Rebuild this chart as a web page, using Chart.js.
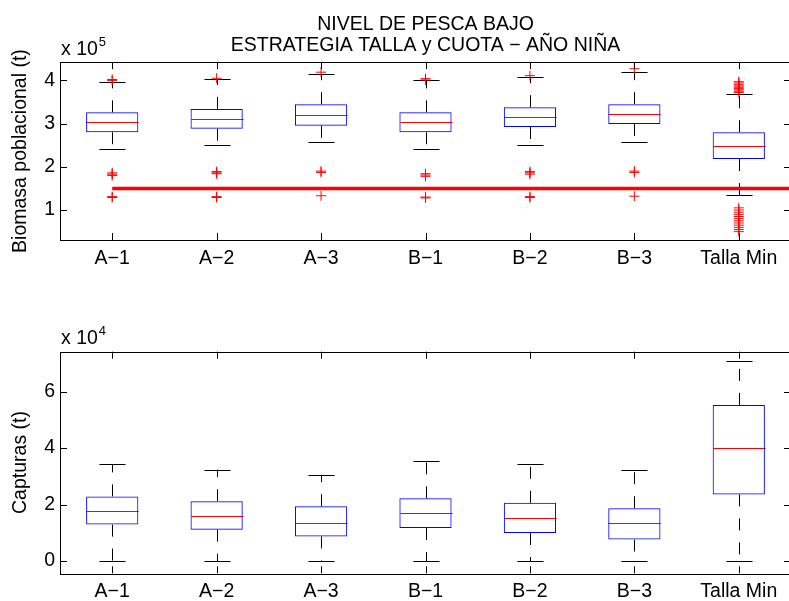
<!DOCTYPE html>
<html>
<head>
<meta charset="utf-8">
<script src="https://cdn.jsdelivr.net/npm/chart.js@4.4.1/dist/chart.umd.min.js"></script>
<style>
    html, body { margin: 0; padding: 0; background: #fff; overflow: hidden; width: 789px; height: 601px; }
    canvas { position: absolute; left: 0; }
    #chartBiomasa { top: 0; }
    #chartCapturas { top: 300px; }
</style>
</head>
<body>
<canvas id="chartBiomasa" width="800" height="300"></canvas>
<canvas id="chartCapturas" width="800" height="301"></canvas>
<script>
const estrategias = ['A−1', 'A−2', 'A−3', 'B−1', 'B−2', 'B−3', 'Talla Min'];

// Biomasa poblacional (x 10^5 t)
const bioQ1 = [2.80, 2.88, 2.95, 2.80, 2.92, 2.99, 2.18];
const bioMediana = [3.04, 3.11, 3.19, 3.04, 3.15, 3.22, 2.49];
const bioQ3 = [3.26, 3.34, 3.45, 3.26, 3.38, 3.45, 2.80];
const bioBigoteInf = [2.42, 2.50, 2.57, 2.42, 2.50, 2.57, 1.34];
const bioBigoteSup = [3.97, 4.03, 4.15, 4.00, 4.08, 4.20, 3.68];
const bioAtipicos = [
    [4.00, 4.02, 1.86, 1.83, 1.80, 1.31, 1.29],
    [4.05, 1.89, 1.86, 1.84, 1.31, 1.29],
    [4.19, 1.90, 1.87, 1.33],
    [4.01, 4.04, 1.84, 1.81, 1.78, 1.30, 1.28],
    [4.11, 1.89, 1.86, 1.83, 1.31, 1.29],
    [4.27, 1.90, 1.87, 1.32],
    [3.72, 3.75, 3.78, 3.81, 3.84, 3.87, 3.90, 3.94, 3.97,
     1.05, 1.00, 0.95, 0.90, 0.85, 0.80, 0.75, 0.70, 0.65, 0.60, 0.55, 0.50]
];
const umbralBiomasa = 1.5;
const umbralDesde = 1;
const umbralHasta = 8;
const bioTicks = [1, 2, 3, 4];

// Capturas (x 10^4 t)
const capQ1 = [1.29, 1.11, 0.87, 1.17, 0.99, 0.76, 2.36];
const capMediana = [1.76, 1.58, 1.35, 1.70, 1.52, 1.35, 4.01];
const capQ3 = [2.29, 2.12, 1.94, 2.22, 2.06, 1.87, 5.53];
const capBigoteInf = [0, 0, 0, 0, 0, 0, 0];
const capBigoteSup = [3.42, 3.24, 3.06, 3.53, 3.42, 3.23, 7.07];
const capTicks = [0, 2, 4, 6];

Chart.defaults.font.family = "'Liberation Sans', Arial, Helvetica, sans-serif";
Chart.defaults.color = '#000';

const FUENTE = 19.5;

// bigotes (discontinuos), topes y mediana
const cajasPlugin = {
    id: 'cajas',
    beforeDatasetsDraw(chart, args, opts) {
        const ctx = chart.ctx;
        const x = chart.scales.x, y = chart.scales.y;
        const medio = x.getPixelForValue(1.25) - x.getPixelForValue(1);
        const tope = medio / 2;
        ctx.save();
        ctx.lineWidth = 1;
        for (let i = 0; i < opts.mediana.length; i++) {
            const cx = Math.round(x.getPixelForValue(i + 1)) + 0.5;
            ctx.strokeStyle = '#000';
            ctx.setLineDash([12, 12]);
            ctx.beginPath();
            ctx.moveTo(cx, y.getPixelForValue(opts.q3[i]));
            ctx.lineTo(cx, y.getPixelForValue(opts.sup[i]));
            ctx.moveTo(cx, y.getPixelForValue(opts.q1[i]));
            ctx.lineTo(cx, y.getPixelForValue(opts.inf[i]));
            ctx.stroke();
            ctx.setLineDash([]);
            ctx.beginPath();
            const ys = Math.round(y.getPixelForValue(opts.sup[i])) + 0.5;
            const yi = Math.round(y.getPixelForValue(opts.inf[i])) + 0.5;
            ctx.moveTo(cx - tope, ys); ctx.lineTo(cx + tope, ys);
            ctx.moveTo(cx - tope, yi); ctx.lineTo(cx + tope, yi);
            ctx.stroke();
            const ym = Math.round(y.getPixelForValue(opts.mediana[i])) + 0.5;
            ctx.strokeStyle = '#ff0000';
            ctx.beginPath();
            ctx.moveTo(cx - medio, ym); ctx.lineTo(cx + medio, ym);
            ctx.stroke();
        }
        ctx.restore();
    }
};

// marco tipo MATLAB con marcas hacia dentro y el factor "x 10^n"
const marcoPlugin = {
    id: 'marco',
    afterDraw(chart, args, opts) {
        const ctx = chart.ctx;
        const a = chart.chartArea;
        const x = chart.scales.x, y = chart.scales.y;
        const largo = 7;
        ctx.save();
        ctx.strokeStyle = '#000';
        ctx.lineWidth = 1;
        ctx.strokeRect(Math.round(a.left) + 0.5, Math.round(a.top) + 0.5,
            Math.round(a.right - a.left), Math.round(a.bottom - a.top));
        ctx.beginPath();
        x.ticks.forEach(t => {
            const px = Math.round(x.getPixelForValue(t.value)) + 0.5;
            ctx.moveTo(px, a.top); ctx.lineTo(px, a.top + largo);
            ctx.moveTo(px, a.bottom); ctx.lineTo(px, a.bottom - largo);
        });
        y.ticks.forEach(t => {
            const py = Math.round(y.getPixelForValue(t.value)) + 0.5;
            ctx.moveTo(a.left, py); ctx.lineTo(a.left + largo, py);
            ctx.moveTo(a.right, py); ctx.lineTo(a.right - largo, py);
        });
        ctx.stroke();

        ctx.fillStyle = '#000';
        ctx.textAlign = 'left';
        ctx.textBaseline = 'alphabetic';
        ctx.font = FUENTE + "px 'Liberation Sans', Arial, sans-serif";
        const base = a.top - 7.5;
        ctx.fillText('x 10', a.left + 1, base);
        const w = ctx.measureText('x 10').width;
        ctx.font = "13px 'Liberation Sans', Arial, sans-serif";
        ctx.fillText(opts.exponente, a.left + 1 + w + 1, base - 9);
        ctx.restore();
    }
};

function crearGrafico(id, cfg) {
    const datasets = [{
        type: 'bar',
        data: estrategias.map((_, i) => ({ x: i + 1, y: [cfg.q1[i], cfg.q3[i]] })),
        backgroundColor: 'rgba(0,0,0,0)',
        borderColor: '#0000ff',
        borderWidth: 1,
        borderSkipped: false,
        categoryPercentage: 1,
        barPercentage: 0.5,
        order: 3
    }];
    if (cfg.atipicos) {
        datasets.push({
            type: 'scatter',
            data: cfg.atipicos.flatMap((vals, i) => vals.map(v => ({ x: i + 1, y: v }))),
            pointStyle: 'cross',
            radius: 5,
            borderColor: '#ff0000',
            borderWidth: 1,
            order: 2
        });
    }
    if (cfg.umbral !== undefined) {
        datasets.push({
            type: 'line',
            data: [{ x: umbralDesde, y: cfg.umbral }, { x: umbralHasta, y: cfg.umbral }],
            borderColor: '#ff0000',
            borderWidth: 3.5,
            pointRadius: 0,
            order: 1
        });
    }

    return new Chart(document.getElementById(id), {
        type: 'bar',
        data: { datasets: datasets },
        plugins: [cajasPlugin, marcoPlugin],
        options: {
            responsive: false,
            animation: false,
            events: [],
            layout: { padding: { left: 0, right: 9, top: cfg.paddingTop, bottom: 0 } },
            plugins: {
                legend: { display: false },
                tooltip: { enabled: false },
                title: cfg.titulo ? {
                    display: true,
                    text: cfg.titulo,
                    fullSize: false,
                    color: '#000',
                    font: { size: FUENTE, weight: 'normal', lineHeight: 1.08 },
                    padding: { top: 14.4, bottom: 5.6 }
                } : { display: false },
                cajas: { q1: cfg.q1, q3: cfg.q3, mediana: cfg.mediana, inf: cfg.inf, sup: cfg.sup },
                marco: { exponente: cfg.exponente }
            },
            scales: {
                x: {
                    type: 'linear',
                    min: 0.5,
                    max: 7.5,
                    offset: false,
                    grid: { display: false, drawTicks: false },
                    border: { display: false },
                    afterBuildTicks: s => { s.ticks = estrategias.map((_, i) => ({ value: i + 1 })); },
                    ticks: {
                        callback: v => estrategias[v - 1],
                        font: { size: FUENTE },
                        padding: 7,
                        maxRotation: 0,
                        autoSkip: false
                    },
                    afterFit: s => { s.height = cfg.altoX; }
                },
                y: {
                    type: 'linear',
                    min: cfg.yMin,
                    max: cfg.yMax,
                    beginAtZero: false,
                    grid: { display: false, drawTicks: false },
                    border: { display: false },
                    afterBuildTicks: s => { s.ticks = cfg.ticks.map(v => ({ value: v })); },
                    ticks: { font: { size: FUENTE }, padding: 5 },
                    title: {
                        display: true,
                        text: cfg.tituloY,
                        color: '#000',
                        font: { size: FUENTE },
                        padding: { top: 9, bottom: 0 }
                    },
                    afterFit: s => { s.width = 60; }
                }
            }
        }
    });
}

crearGrafico('chartBiomasa', {
    titulo: ['NIVEL DE PESCA BAJO', 'ESTRATEGIA TALLA y CUOTA − AÑO NIÑA'],
    tituloY: 'Biomasa poblacional (t)',
    q1: bioQ1, q3: bioQ3, mediana: bioMediana, inf: bioBigoteInf, sup: bioBigoteSup,
    atipicos: bioAtipicos,
    umbral: umbralBiomasa,
    ticks: bioTicks,
    yMin: 0.306, yMax: 4.423,
    exponente: '5',
    paddingTop: 0,
    altoX: 60
});

crearGrafico('chartCapturas', {
    tituloY: 'Capturas (t)',
    q1: capQ1, q3: capQ3, mediana: capMediana, inf: capBigoteInf, sup: capBigoteSup,
    ticks: capTicks,
    yMin: -0.436, yMax: 7.417,
    exponente: '4',
    paddingTop: 51.7,
    altoX: 27.7
});
</script>
</body>
</html>
